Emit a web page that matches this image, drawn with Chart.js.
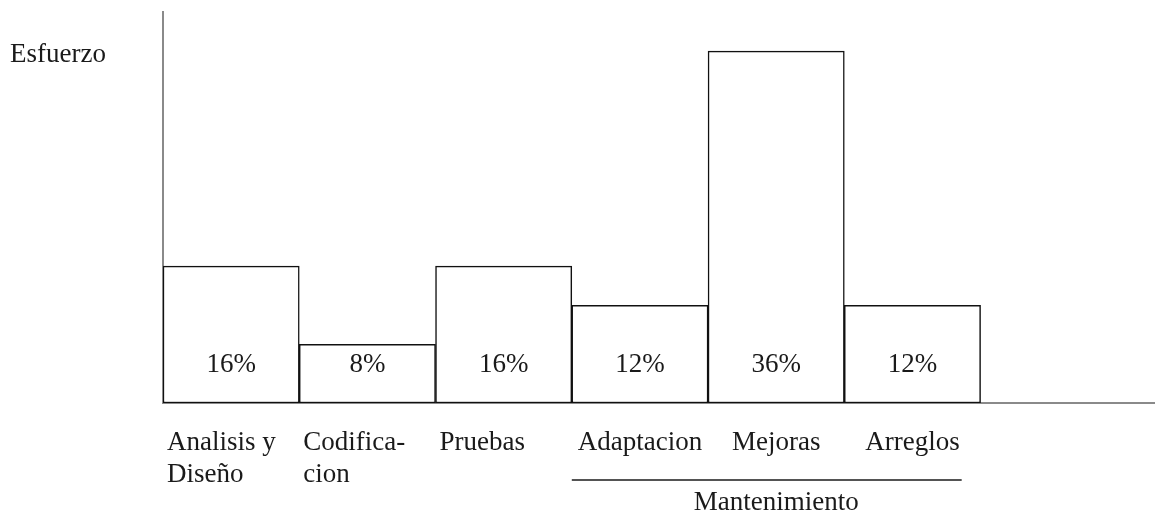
<!DOCTYPE html>
<html lang="es">
<head>
<meta charset="UTF-8">
<title>Esfuerzo</title>
<script src="https://cdn.jsdelivr.net/npm/chart.js@4.4.1/dist/chart.umd.min.js"></script>
<style>
    html, body { margin: 0; padding: 0; background: #fff; }
    #wrap { width: 1155px; height: 513px; position: relative; }
</style>
</head>
<body>

<div id="wrap"><canvas id="chart"></canvas></div>

<script>
    // data (bar heights on a 0-100 effort scale)
    var categories = [['Analisis y', 'Diseño'], ['Codifica-', 'cion'], ['Pruebas'], ['Adaptacion'], ['Mejoras'], ['Arreglos']];
    var esfuerzo = [35, 15, 35, 25, 90, 25];
    var shares = ['16%', '8%', '16%', '12%', '36%', '12%'];
    var groupLabel = 'Mantenimiento';
    var groupFirst = 3;
    var groupLast = 5;
    var yMax = 100;
    var xMax = 7.28;

    var FONT = '27px "Liberation Serif", "Times New Roman", serif';
    var INK = '#1a1a1a';

    var points = esfuerzo.map(function (v, i) { return { x: i + 0.5, y: v }; });

    var annotate = {
        id: 'annotate',
        afterDatasetsDraw: function (chart) {
            var ctx = chart.ctx;
            var xs = chart.scales.x;
            var area = chart.chartArea;
            ctx.save();
            ctx.fillStyle = INK;
            ctx.strokeStyle = INK;
            ctx.font = FONT;
            ctx.textBaseline = 'alphabetic';

            // axis title, top left
            ctx.textAlign = 'left';
            ctx.fillText('Esfuerzo', 10, area.top + 50);

            // share inside each bar
            ctx.textAlign = 'center';
            shares.forEach(function (s, i) {
                ctx.fillText(s, xs.getPixelForValue(i + 0.5), area.bottom - 31);
            });

            // category labels: left aligned outside the group, centred inside it
            var groupRight = 0;
            categories.forEach(function (lines, i) {
                var inGroup = i >= groupFirst && i <= groupLast;
                lines.forEach(function (line, k) {
                    var yy = area.bottom + 47 + k * 32;
                    if (inGroup) {
                        ctx.textAlign = 'center';
                        var cx = xs.getPixelForValue(i + 0.5);
                        ctx.fillText(line, cx, yy);
                        groupRight = Math.max(groupRight, cx + ctx.measureText(line).width / 2);
                    } else {
                        ctx.textAlign = 'left';
                        ctx.fillText(line, xs.getPixelForValue(i) + 4, yy);
                    }
                });
            });

            // group bracket
            ctx.lineWidth = 1.5;
            ctx.beginPath();
            ctx.moveTo(xs.getPixelForValue(groupFirst), area.bottom + 77);
            ctx.lineTo(groupRight + 2, area.bottom + 77);
            ctx.stroke();
            ctx.textAlign = 'center';
            ctx.fillText(groupLabel, xs.getPixelForValue((groupFirst + groupLast + 1) / 2), area.bottom + 107);

            ctx.restore();
        }
    };

    new Chart(document.getElementById('chart'), {
        type: 'bar',
        data: {
            datasets: [{
                data: points,
                backgroundColor: '#ffffff',
                borderColor: '#111111',
                borderWidth: 1.5,
                borderSkipped: false,
                barPercentage: 1,
                categoryPercentage: 1
            }]
        },
        options: {
            responsive: true,
            maintainAspectRatio: false,
            animation: false,
            layout: { padding: { left: 163, top: 12, right: 0, bottom: 110 } },
            plugins: {
                legend: { display: false },
                tooltip: { enabled: false }
            },
            scales: {
                x: {
                    type: 'linear',
                    min: 0,
                    max: xMax,
                    offset: false,
                    afterBuildTicks: function (scale) {
                        scale.ticks = categories.map(function (c, i) { return { value: i }; });
                    },
                    ticks: { display: false },
                    grid: { display: false, drawTicks: false },
                    border: { display: true, color: '#8a8a8a', width: 2 }
                },
                y: {
                    min: 0,
                    max: yMax,
                    ticks: { display: false },
                    grid: { display: false, drawTicks: false },
                    border: { display: true, color: '#8a8a8a', width: 2 }
                }
            }
        },
        plugins: [annotate]
    });
</script>

</body>
</html>
